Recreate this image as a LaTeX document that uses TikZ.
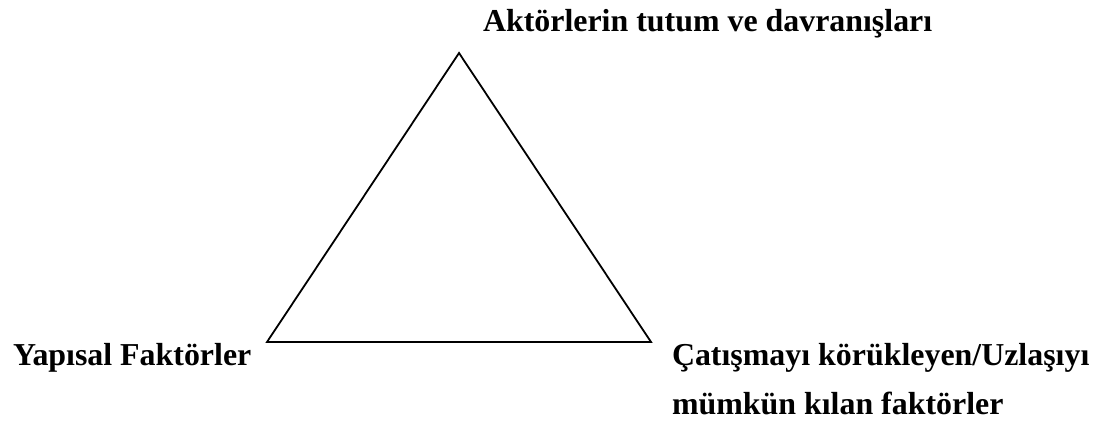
\documentclass[tikz,border=0pt]{standalone}
\usepackage{fontspec}
\setmainfont{Liberation Serif}
\begin{document}
\begin{tikzpicture}[x=1pt,y=1pt,
  lbl/.style={inner sep=0pt, outer sep=0pt, anchor=base west, font=\fontsize{31.9}{38}\selectfont\bfseries},
  edge/.style={line width=1.8pt, line join=miter}]
\useasboundingbox (0,0) rectangle (1099,423);
\coordinate (top) at (459,370);
\coordinate (bl) at (267,81);
\coordinate (br) at (651,81);
\draw[edge] (top) -- (bl) -- (br) -- cycle;
\node[lbl] (t) at (483,391) {Aktörlerin tutum ve davranışları};
\node[lbl] (l) at (13,58) {Yapısal Faktörler};
\node[lbl] (r1) at (672,58) {Çatışmayı körükleyen/Uzlaşıyı};
\node[lbl] (r2) at (672,9) {mümkün kılan faktörler};
\end{tikzpicture}
\end{document}
